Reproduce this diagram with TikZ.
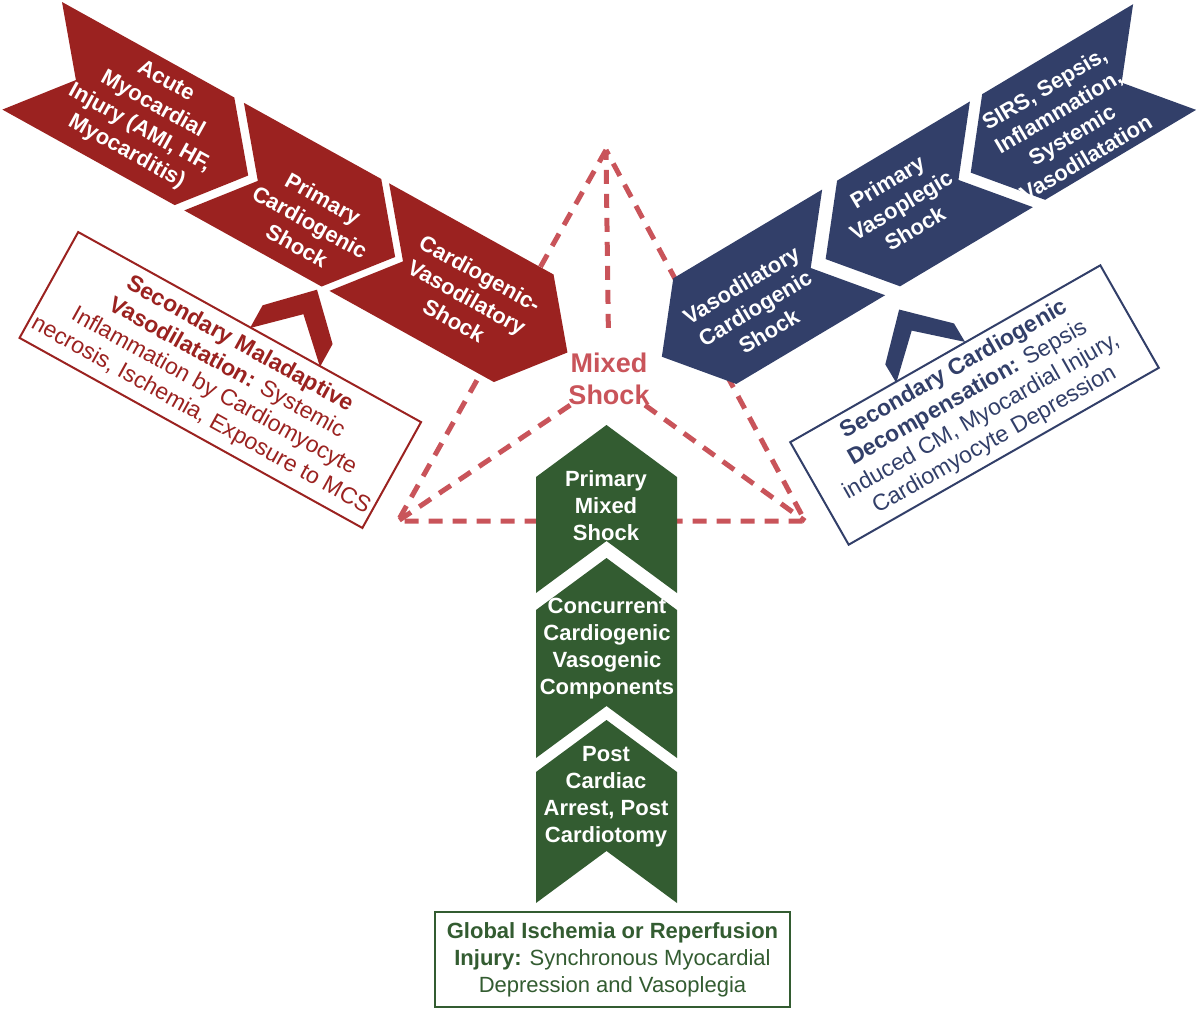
\documentclass[tikz,border=0pt]{standalone}
\usepackage{fontspec}
\setmainfont{Liberation Sans}

\begin{document}
\begin{tikzpicture}[x=1pt, y=-1pt,
    chevtext/.style={text=white, align=center, inner sep=0pt, font=\bfseries\fontsize{22}{27}\selectfont},
    notebox/.style={draw, line width=2pt, fill=white, align=center, inner sep=2pt, font=\fontsize{23}{27}\selectfont},
    dashline/.style={draw=mixline, line width=5pt, dash pattern=on 14pt off 10pt}]
    \definecolor{cardio}{RGB}{155,34,32}
    \definecolor{vaso}{RGB}{50,63,105}
    \definecolor{mixgreen}{RGB}{51,92,49}
    \definecolor{mixline}{RGB}{201,84,90}

    \useasboundingbox (0,0) rectangle (1200,1010);

    % triangle corners and centre label
    \coordinate (ctop) at (606,150);
    \coordinate (cleft) at (398,521);
    \coordinate (cright) at (805,521);
    \node[text=mixline, align=center, inner sep=0pt, font=\bfseries\fontsize{27}{32}\selectfont] (mixed) at (609,379) {Mixed\\Shock};

    % dashed triangle
    \draw[dashline] (ctop) -- (cleft) -- (cright) -- cycle;
    \draw[dashline] (mixed) -- (cleft);
    \draw[dashline] (mixed) -- (cright);
    \draw[dashline, shorten <=25pt] (mixed) -- (ctop);

    % cardiogenic band
    \begin{scope}[shift={(62,2)}, rotate=-29]
        \fill[cardio] (0,0) -- (197,0) -- (247,61.5) -- (197,123) -- (0,123) -- (50,61.5) -- cycle;
        \fill[cardio] (208,0) -- (365,0) -- (415,61.5) -- (365,123) -- (208,123) -- (258,61.5) -- cycle;
        \fill[cardio] (374,0) -- (562,0) -- (612,61.5) -- (562,123) -- (374,123) -- (424,61.5) -- cycle;
        % pointer from the box
        \fill[cardio] (322.5,194) -- (322.5,168) -- (362.5,128) -- (402.5,168) -- (402.5,194) -- (362.5,156) -- cycle;
    \end{scope}

    % vasoplegic band
    \begin{scope}[shift={(673.3,278.3)}, rotate=30.8]
        \fill[vaso] (0,0) -- (173.3,0) -- (123.3,61.5) -- (173.3,123) -- (0,123) -- (-50,61.5) -- cycle;
        \fill[vaso] (190.7,0) -- (345.3,0) -- (295.3,61.5) -- (345.3,123) -- (190.7,123) -- (140.7,61.5) -- cycle;
        \fill[vaso] (359.6,0) -- (535.3,0) -- (485.3,61.5) -- (535.3,123) -- (359.6,123) -- (309.6,61.5) -- cycle;
        % pointer from the box
        \fill[vaso] (138,204) -- (138,182.5) -- (178,142.5) -- (218,182.5) -- (218,204) -- (178,167) -- cycle;
    \end{scope}

    % mixed band
    \fill[mixgreen] (536,477) -- (606.5,425) -- (677,477) -- (677,593) -- (606.5,541) -- (536,593) -- cycle;
    \fill[mixgreen] (536,610) -- (606.5,558) -- (677,610) -- (677,758) -- (606.5,706) -- (536,758) -- cycle;
    \fill[mixgreen] (536,772) -- (606.5,720) -- (677,772) -- (677,903) -- (606.5,851) -- (536,903) -- cycle;

    % chevron labels
    \node[chevtext, rotate=-29] (acute) at (146,117) {Acute\\Myocardial\\Injury (AMI, HF,\\Myocarditis)};
    \node[chevtext, rotate=-29] (primcardio) at (310,222) {Primary\\Cardiogenic\\Shock};
    \node[chevtext, rotate=-29] (cardiovaso) at (467,297) {Cardiogenic-\\Vasodilatory\\Shock};
    \node[chevtext, rotate=30.8] (vasocardio) at (755,308) {Vasodilatory\\Cardiogenic\\Shock};
    \node[chevtext, rotate=30.8] (primvaso) at (901,205) {Primary\\Vasoplegic\\Shock};
    \node[chevtext, rotate=30.8] (sirs) at (1065,123) {SIRS, Sepsis,\\Inflammation,\\Systemic\\Vasodilatation};
    \node[chevtext] (primmixed) at (606,506) {Primary\\Mixed\\Shock};
    \node[chevtext] (concurrent) at (607,649) {Concurrent\\Cardiogenic\\Vasogenic\\Components};
    \node[chevtext] (postarrest) at (606,797) {Post\\Cardiac\\Arrest, Post\\Cardiotomy};

    % boxes
    \node[notebox, draw=cardio, text=cardio, rotate=-29, minimum width=392pt, minimum height=121pt] (secvaso) at (220.3,380) {\textbf{Secondary Maladaptive}\\\textbf{Vasodilatation:} Systemic\\Inflammation by Cardiomyocyte\\necrosis, Ischemia, Exposure to MCS};
    \node[notebox, draw=vaso, text=vaso, rotate=29.7, minimum width=357pt, minimum height=118pt] (seccardio) at (974.5,405) {\textbf{Secondary Cardiogenic}\\\textbf{Decompensation:} Sepsis\\induced CM, Myocardial Injury,\\Cardiomyocyte Depression};
    \node[notebox, draw=mixgreen, text=mixgreen, minimum width=355pt, minimum height=95pt, font=\fontsize{22}{27}\selectfont] (global) at (612.5,959.5) {\textbf{Global Ischemia or Reperfusion}\\\textbf{Injury:} Synchronous Myocardial\\Depression and Vasoplegia};
\end{tikzpicture}
\end{document}
